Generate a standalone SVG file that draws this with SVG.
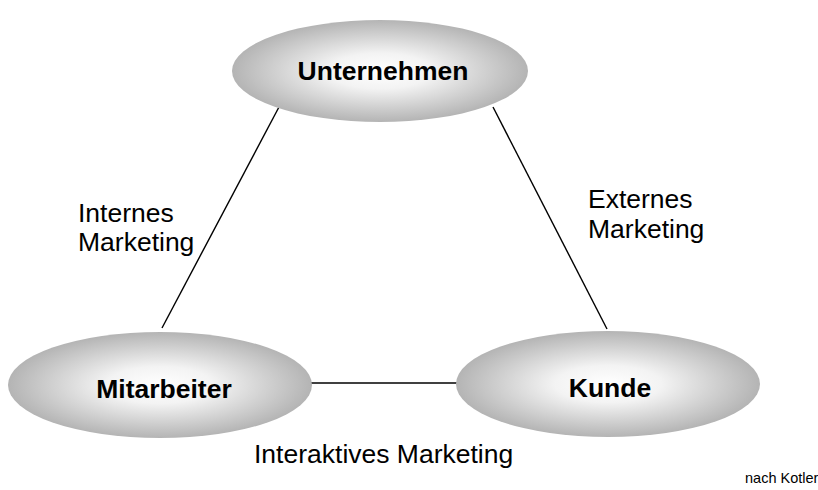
<svg xmlns="http://www.w3.org/2000/svg" width="818" height="490" viewBox="0 0 818 490">
  <defs>
    <radialGradient id="shade" cx="50%" cy="50%" r="50%">
      <stop offset="0" stop-color="#ffffff"/>
      <stop offset="0.35" stop-color="#f3f3f3"/>
      <stop offset="1" stop-color="#b4b4b4"/>
    </radialGradient>
  </defs>
  <style>
    .node { fill: url(#shade); stroke: none; }
    .title { font-family: "Liberation Sans", Arial, sans-serif; font-weight: bold; font-size: 26.5px; fill: #000; text-anchor: middle; }
    .label { font-family: "Liberation Sans", Arial, sans-serif; font-size: 26.5px; fill: #000; }
    .link { stroke: #000; stroke-width: 1.4; fill: none; }
  </style>
  <rect width="818" height="490" fill="#ffffff"/>

  <g id="connectors">
    <line class="link" x1="279" y1="107" x2="162" y2="328"/>
    <line class="link" x1="493" y1="107" x2="607" y2="329"/>
    <line class="link" x1="311" y1="383" x2="458" y2="383"/>
  </g>

  <g id="unternehmen">
    <ellipse class="node" cx="380" cy="71" rx="148" ry="51"/>
    <text class="title" x="383" y="80">Unternehmen</text>
  </g>
  <g id="mitarbeiter">
    <ellipse class="node" cx="160" cy="385" rx="152" ry="53"/>
    <text class="title" x="164" y="398">Mitarbeiter</text>
  </g>
  <g id="kunde">
    <ellipse class="node" cx="608" cy="384" rx="152" ry="53"/>
    <text class="title" x="610" y="397">Kunde</text>
  </g>

  <g id="labels">
    <text class="label" x="78" y="222">Internes</text>
    <text class="label" x="78" y="251">Marketing</text>
    <text class="label" x="588" y="208">Externes</text>
    <text class="label" x="588" y="238">Marketing</text>
    <text class="label" x="254" y="463">Interaktives Marketing</text>
    <text class="label" x="745" y="483" style="font-size:14.5px">nach Kotler</text>
  </g>
</svg>
